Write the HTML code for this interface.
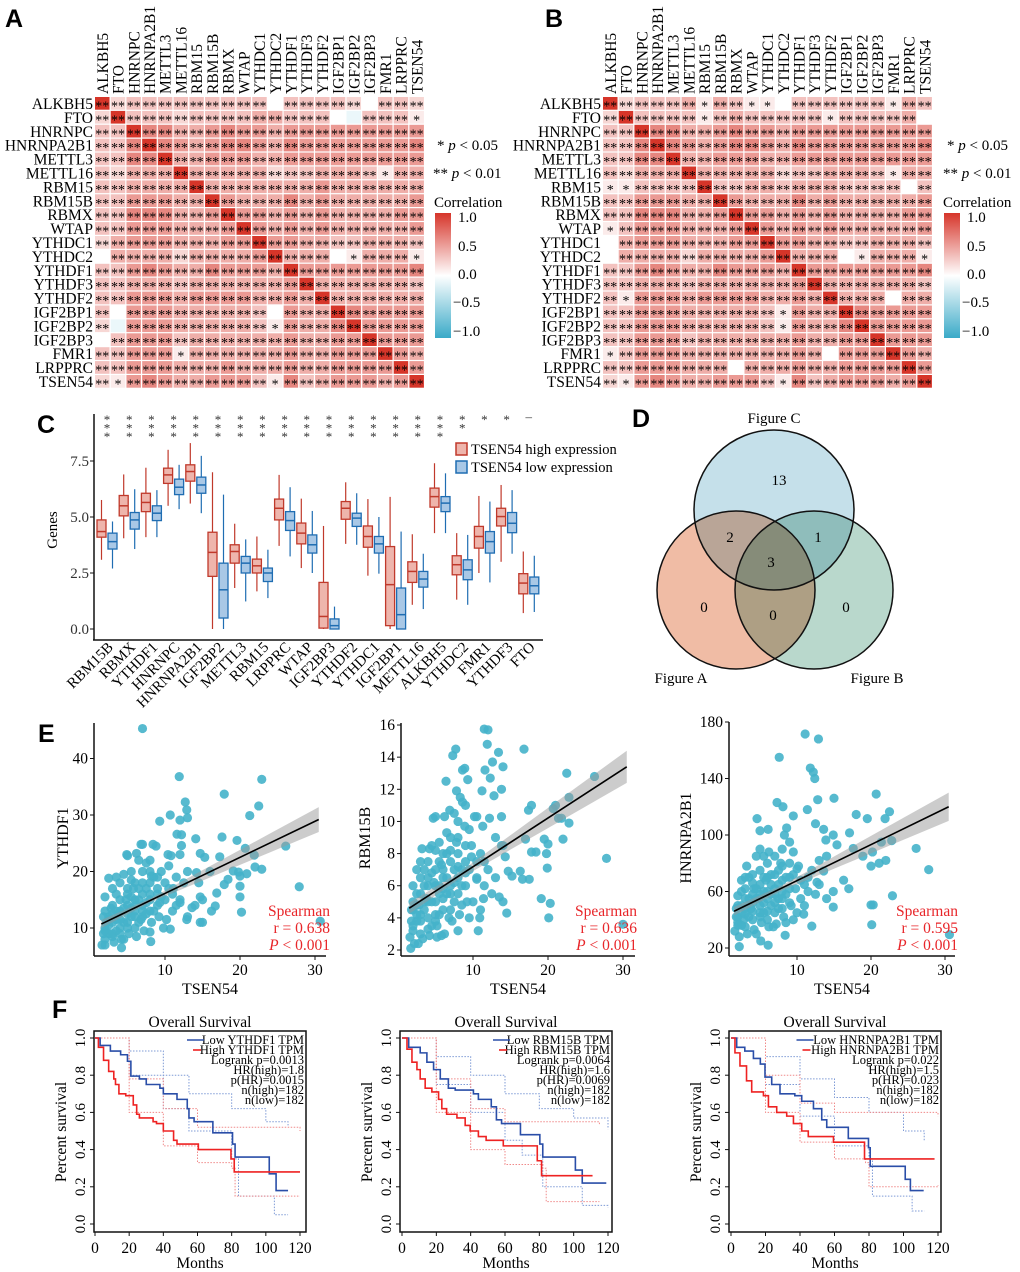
<!DOCTYPE html>
<html><head><meta charset="utf-8"><title>m6A regulators figure</title>
<style>
html,body{margin:0;padding:0;background:#fff;}
svg{display:block;font-family:"Liberation Serif",serif;}
.lab{font-family:"Liberation Sans",sans-serif;font-weight:bold;font-size:25px;}
</style></head>
<body>
<svg id="fig" width="1020" height="1272" viewBox="0 0 1020 1272" xmlns="http://www.w3.org/2000/svg">
<rect x="0" y="0" width="1020" height="1272" fill="#fff"/>
<defs>
<linearGradient id="cbar" x1="0" y1="0" x2="0" y2="1">
<stop offset="0" stop-color="#d6352a"/><stop offset="0.5" stop-color="#ffffff"/><stop offset="1" stop-color="#3aaac8"/>
</linearGradient>
</defs>
<text class="lab" x="5" y="27">A</text>
<text class="lab" x="545" y="27">B</text>
<text class="lab" x="37" y="433">C</text>
<text class="lab" x="632" y="427">D</text>
<text class="lab" x="38" y="742">E</text>
<text class="lab" x="52" y="1018">F</text>
<g id="legA">
<text x="437" y="150" font-size="15">* <tspan font-style="italic">p</tspan> &lt; 0.05</text>
<text x="433" y="178" font-size="15">** <tspan font-style="italic">p</tspan> &lt; 0.01</text>
<text x="434" y="207" font-size="15">Correlation</text>
<rect x="435" y="213" width="16" height="125" fill="url(#cbar)"/>
<text x="458" y="222" font-size="15">1.0</text>
<text x="458" y="251" font-size="15">0.5</text>
<text x="458" y="279" font-size="15">0.0</text>
<text x="453" y="307" font-size="15">−0.5</text>
<text x="453" y="336" font-size="15">−1.0</text>
</g>
<g id="legB">
<text x="947" y="150" font-size="15">* <tspan font-style="italic">p</tspan> &lt; 0.05</text>
<text x="943" y="178" font-size="15">** <tspan font-style="italic">p</tspan> &lt; 0.01</text>
<text x="943" y="207" font-size="15">Correlation</text>
<rect x="944" y="213" width="16" height="125" fill="url(#cbar)"/>
<text x="967" y="222" font-size="15">1.0</text>
<text x="967" y="251" font-size="15">0.5</text>
<text x="967" y="279" font-size="15">0.0</text>
<text x="962" y="307" font-size="15">−0.5</text>
<text x="962" y="336" font-size="15">−1.0</text>
</g>
<g>
<circle cx="774" cy="510" r="80" fill="#c5e0ea" style="mix-blend-mode:multiply"/>
<circle cx="736" cy="590" r="79" fill="#f0bca5" style="mix-blend-mode:multiply"/>
<circle cx="814" cy="590" r="79" fill="#b9d8cc" style="mix-blend-mode:multiply"/>
<circle cx="774" cy="510" r="80" fill="none" stroke="#111" stroke-width="1.5"/>
<circle cx="736" cy="590" r="79" fill="none" stroke="#111" stroke-width="1.5"/>
<circle cx="814" cy="590" r="79" fill="none" stroke="#111" stroke-width="1.5"/>
<g font-size="15" text-anchor="middle">
<text x="774" y="423">Figure C</text>
<text x="779" y="485">13</text>
<text x="730" y="542">2</text>
<text x="818" y="542">1</text>
<text x="771" y="567">3</text>
<text x="704" y="612">0</text>
<text x="773" y="620">0</text>
<text x="846" y="612">0</text>
<text x="681" y="683">Figure A</text>
<text x="877" y="683">Figure B</text>
</g>
</g>
</svg>
<script>
// ===== Heatmap data =====
const heatGenes = ["ALKBH5","FTO","HNRNPC","HNRNPA2B1","METTL3","METTL16","RBM15","RBM15B","RBMX","WTAP","YTHDC1","YTHDC2","YTHDF1","YTHDF3","YTHDF2","IGF2BP1","IGF2BP2","IGF2BP3","FMR1","LRPPRC","TSEN54"];
// digit d = correlation d/10, X = 1.0, n = -0.1
const corrA = [
"X23333333330333320332","2X33323333443330n3331","33X664456554555555555","336X65456654655555556",
"3366X4455544555555555","32444X444442334443144","334444X44444445444444","3355544X5444645444445",
"33666445X554545444455","335554445X54545444445","2455544455X5544334443","04444244445X444014441",
"335654465554X55555556","3344434444445X4444443","33555455554454X444444","305554444430544X65555",
"2n55544444315446X5555","03555344444454455X555","335551444444544555X54","3355544454445445555X5",
"21565445553163455545X"];
const corrB = [
"X23334143110333333143","2X3333134333331333340","33X664456554555555555","336X65456654655555556",
"3366X4455544555555555","32444X444442334443144","113333X33443444333303","3355544X5444645444445",
"33666445X554545444455","135554445X54545444445","0455544455X5544334443","04444244445X444014441",
"335654465554X55555556","3344434444445X4444443","31555455554454X444044","335554444431544X65555",
"3355544444315446X5555","33555344444454455X555","135554444444540555X54","3355544404445445555X5",
"21565445553163455545X"];

// ===== Boxplot data (panel C) =====
const boxGenes = ["RBM15B","RBMX","YTHDF1","HNRNPC","HNRNPA2B1","IGF2BP2","METTL3","RBM15","LRPPRC","WTAP","IGF2BP3","YTHDF2","YTHDC1","IGF2BP1","METTL16","ALKBH5","YTHDC2","FMR1","YTHDF3","FTO"];
const hiMed = [4.35,5.5,5.65,6.88,7.03,3.42,3.46,2.82,5.39,4.28,0.56,5.39,4.13,1.98,2.57,5.91,2.87,4.13,5.02,2.05];
const hiQ1  = [4.1,5.05,5.24,6.5,6.6,2.35,2.94,2.5,4.87,3.8,0.04,4.9,3.65,0.15,2.08,5.44,2.42,3.61,4.6,1.57];
const hiQ3  = [4.87,5.96,6.06,7.18,7.33,4.32,3.76,3.12,5.8,4.73,2.08,5.69,4.6,3.68,3.0,6.29,3.27,4.58,5.39,2.47];
const hiMin = [3.09,4.05,4.1,5.5,5.6,0,1.83,1.68,3.71,2.72,0,3.8,2.38,0,1.08,4.28,1.31,2.5,3.0,0.71];
const hiMax = [5.76,6.9,7.2,8.0,8.3,7.0,4.7,4.13,6.88,5.82,4.6,6.55,5.8,5.9,4.23,7.4,4.28,5.94,6.43,3.46];
const loMed = [3.9,4.87,5.17,6.33,6.43,1.75,2.94,2.5,4.84,3.76,0.15,4.95,3.8,0.64,2.23,5.62,2.64,3.9,4.72,1.93];
const loQ1  = [3.57,4.46,4.84,6.0,6.06,0.49,2.5,2.12,4.4,3.39,0,4.58,3.39,0,1.87,5.24,2.2,3.39,4.3,1.57];
const loQ3  = [4.28,5.2,5.5,6.69,6.78,2.94,3.24,2.72,5.24,4.2,0.45,5.17,4.13,1.83,2.57,5.91,3.09,4.35,5.2,2.32];
const loMin = [2.7,3.57,4.1,5.35,5.17,0,1.23,1.38,3.24,2.5,0,3.76,2.47,0,0.89,4.28,1.08,2.08,3.36,0.76];
const loMax = [4.8,6.24,6.2,7.33,7.73,6.0,4.0,3.54,6.33,5.27,1.0,6.06,5.0,4.35,3.36,6.95,4.2,5.69,6.2,3.27];
const boxSignif = ["***","***","***","***","***","***","***","***","***","***","***","***","***","***","***","***","**","*","*","-"];
const boxTicks = [0,2.5,5,7.5];
const boxTickLabels = ["0.0","2.5","5.0","7.5"];

// ===== Scatter data (panel E) =====
const e1X = [7.0,11.9,22.9,17.9,12.7,22.5,12.9,10.7,21.3,13.0,9.3,12.0,11.6,14.1,17.6,19.6,7.0,8.4,12.2,26.1,20.7,21.9,4.9,10.4,14.7,15.3,6.2,17.3,22.0,22.9,19.1,19.8,20.9,20.0,18.4,17.9,27.9,20.0,16.9,20.0,14.7,16.7,16.2,20.2,14.7,10.7,30.7,8.0,8.1,4.2,8.2,14.2,11.1,12.0,13.6,9.3,10.2,12.9,
2,2,2.5,2,3,3,3.5,2.5,4,4,4.5,5,5,5.5,5,6,6,6.5,6,7,7,7.5,7,8,8,8.5,8,9,9,9.5,3,3.5,4,4.5,2,2.5,3.5,5.5,6.5,5,7.5,8.8,6.8,10,10,10.5,11,11,11.5,12,12.5,13,13,14,14.5,15,15,16,1.8,2.2,3.2,4.2,5.2,6.2,7.2,8.2,9.2,4.8,5.8,6.8,3.8,2.8,1.6,9.8,12,12.2,10.8,
2,2.5,3,3.5,4,4.5,5,5.5,6,6.5,7,7.5,8,8.5,9,3,4,5,6,7,8,9,4.5,5.5,6.5,7.5,3.5,2.5,1.8,4,5,6,7,8,9.5,10.5,11.5,3,2,5.5];
const e1Y = [45.3,36.8,36.3,33.7,32.3,31.6,30.9,30.0,29.9,29.5,28.9,29.1,26.6,25.8,26.1,25.5,24.8,24.8,24.6,24.5,24.1,22.9,23.0,23.0,23.2,22.5,23.2,22.6,20.8,20.4,20.1,19.9,19.6,19.2,18.6,17.7,17.3,17.4,16.2,15.5,15.5,13.9,13.0,12.8,11.0,9.8,11.2,9.3,7.6,8.0,19.2,19.8,17.0,14.5,13.6,14.5,11.5,11.5,
7,8,9,10,8.5,11,9.5,12,10,13,8,11,14,12,16,10,13,15,18,12,14,17,20,13,16,19,22,14,17,20,14,16,18,19.5,15.5,18.8,19,20,22,22.8,21.5,24.5,24.8,15,18,21,13,16,19,15,18,12,20,14,18,11,15,20,9,11,7.5,6.5,9,8.5,9.5,11,12,15,17,11.5,12.5,13.5,7,10,23,26.5,22.8,
9.5,10.5,9,11.5,9,11,10,13.5,12,11,13,12.5,15,13,16,12.5,15,17,15,16,18,19,13.5,15.5,17,14.5,13,11.5,12,11.5,12.5,14,18,20,15.5,17,14,17,13,18.5];
const e1Fit = [10.7,29.2];
const e1Band = [0.7,0.35,2.2];

const e2X = [11.5,12.0,11.9,7.7,16.8,13.4,7.3,12.6,8.9,8.6,14.0,11.6,22.5,26.2,12.3,6.4,9.3,13.8,7.8,11.2,22.8,12.8,17.8,8.6,20.7,21.0,17.4,6.9,4.7,10.5,13.8,21.4,21.8,22.8,8.9,11.3,12.2,17.0,19.5,20.0,22.0,13.8,27.8,17.8,18.4,19.8,14.3,19.9,16.3,14.7,16.6,17.5,15.2,19.1,20.3,20.1,14.5,13.5,11.4,10.9,10.7,8.0,9.8,10.5,30.0,5.2,5.8,1.7,2.7,
1.6,2,2.5,2,3,3,3.5,2.5,4,4,4.5,5,5,5.5,5,6,6,6.5,6,7,7,7.5,7,8,8,8.5,8,9,9,9.5,3,3.5,4,4.5,2,2.5,3.2,5.5,6.5,5,7.5,6.2,4.2,10,10.5,11,11,11.5,12,12.5,13,13,14,14,9.5,8.5,1.8,2.2,3.3,4.2,5.2,6.2,7.2,8.2,9.2,4.8,5.8,6.8,3.8,2.8,7.8,9.8,10.2,9,8.3,
2,2.5,3,3.5,4,4.5,5,5.5,6,6.5,7,7.5,8,8.5,9,3,4,5,6,7,8,9,4.5,5.5,6.5,7.5,3.5,2.5,1.8,4,5,6,7,8,9.5,10.5,11.5,3,2,5.5];
const e2Y = [15.75,15.7,14.8,14.5,14.5,14.3,14.1,13.7,13.3,13.2,13.4,13.2,13.0,12.8,12.7,12.5,12.6,12.0,11.9,11.9,11.5,11.6,11.0,11.2,10.8,11.0,10.7,10.7,10.2,10.3,10.3,10.2,10.2,9.9,9.7,9.7,10.2,8.9,8.9,8.6,8.9,8.5,7.7,8.1,8.1,8.0,7.8,7.1,6.9,6.9,6.4,6.4,6.6,5.2,4.9,4.0,4.3,5.3,5.2,4.0,3.2,3.2,7.8,6.4,3.6,2.8,2.9,2.1,2.4,
2.8,3.2,3.8,4.5,3,4.2,5,5.5,4,6,3.5,5,7,6,8.2,4.5,6.5,5.5,8,6,7.5,5,9,6.5,8,7,10,6,7.5,9.5,6.5,7,7.5,8.5,6,7,8.3,8.7,9.3,10.3,10.5,10.3,8.3,5,6.5,8,4.5,6,7,5.5,6.5,9,5,8.5,4,4.8,3.8,2.4,2.7,2.9,3.5,3,3.8,4.2,5,6.2,7.3,4,5.2,4.8,8.7,8.5,10.3,11,11.5,
3.5,4.2,3.8,4.5,3.3,5,4.2,5.5,5.2,6.5,5.5,6.2,7.2,6,8.5,5.5,6.5,6,7,8.2,9,6.8,6.8,7.5,8,7,6,4.8,4.5,5,3.8,5.8,4.5,5.5,7,7.5,7.5,7.5,5,4.2];
const e2Fit = [4.6,13.4];
const e2Band = [0.35,0.2,1.0];

const e3X = [11.1,12.9,7.6,11.8,12.2,12.4,12.8,15.0,20.7,7.3,8.1,11.4,22.5,18.0,9.5,4.6,19.5,21.9,12.5,5.0,6.1,13.6,17.1,8.6,14.9,13.9,21.4,22.8,26.1,17.6,15.4,18.9,20.2,21.1,22.0,20.0,27.8,16.3,17.0,22.9,14.9,20.0,20.3,14.9,20.1,12.0,10.9,30.6,8.4,6.1,2.2,5.1,13.6,12.7,10.0,
1.6,2,2.5,2,3,3,3.5,2.5,4,4,4.5,5,5,5.5,5,6,6,6.5,6,7,7,7.5,7,8,8,8.5,8,9,9,9.5,3,3.5,4,4.5,2,2.5,3.2,5.5,6.5,5,7.5,6.2,4.2,10,10.5,11,11,11.5,12,12.5,13,13,14,14,9.5,8.5,1.8,2.2,3.3,4.2,5.2,6.2,7.2,8.2,9.2,4.8,5.8,6.8,3.8,2.8,7.8,9.8,10.2,9,8.3,
2,2.5,3,3.5,4,4.5,5,5.5,6,6.5,7,7.5,8,8.5,9,3,4,5,6,7,8,9,4.5,5.5,6.5,7.5,3.5,2.5,1.8,4,5,6,7,8,9.5,10.5,11.5,3,2,5.5];
const e3Y = [171.5,168,155,147.4,144.5,140,125,126,129,123,120,118,116.5,114.5,113.5,111.6,111.6,111.6,108,103,104,104,101.5,105,100,96.5,95,96,90.5,90.5,93,85,88,80,82,78,75.5,68,62,57,60,50.5,50.5,49,36.5,35.5,44,29.5,29,22,21,25,74.5,66.5,76,
32,38,45,50,35,48,55,60,40,58,30,45,65,52,75,40,60,50,80,45,62,55,85,48,68,58,90,52,70,88,62,70,72,85,57,68,78,85,72,90,75,88,62,45,55,65,50,60,75,58,65,82,55,85,40,38,42,28,30,33,38,35,37,42,50,55,68,35,48,40,80,62,78,95,100,
42,50,44,50,46,55,50,60,55,65,58,65,60,70,62,55,66,58,70,72,78,80,62,70,58,48,42,36,48,52,42,46,52,55,72,68,70,70,36,45];
const e3Fit = [46,120];
const e3Band = [3,1.8,10];

// ===== Survival data (panel F) =====
const f1LowT = [0,3,9,15,19,21,26,30,38,40,48,54,55,58,69,80.5,82,102,106,113];
const f1LowS = [1,0.96,0.93,0.91,0.875,0.795,0.78,0.75,0.73,0.70,0.67,0.62,0.57,0.55,0.49,0.43,0.36,0.27,0.18,0.18];
const f1HighT = [0,2,5,8,11,12,14,18,22.4,24.4,26,34,36,40,46,48,60.5,79.6,81.5,120];
const f1HighS = [1,0.95,0.88,0.82,0.78,0.75,0.70,0.69,0.64,0.59,0.57,0.55,0.54,0.50,0.45,0.43,0.40,0.35,0.28,0.28];
const f1LowUpT=[0,20,40,55,80,100,113], f1LowUpS=[1,0.93,0.8,0.7,0.62,0.55,0.53];
const f1LowDnT=[0,20,40,55,80,84,105,113], f1LowDnS=[1,0.8,0.62,0.5,0.35,0.15,0.05,0.05];
const f1HighUpT=[0,20,40,60,120], f1HighUpS=[1,0.78,0.62,0.52,0.5];
const f1HighDnT=[0,20,40,60,80,82,120], f1HighDnS=[1,0.6,0.42,0.33,0.3,0.15,0.15];

const f2LowT = [0,3.9,10.6,14.5,18.4,22.3,27,31,41.6,44.5,52,55,58,69,80.3,82,101,105,119];
const f2LowS = [1,0.95,0.92,0.87,0.83,0.78,0.73,0.72,0.70,0.67,0.63,0.56,0.54,0.48,0.43,0.36,0.29,0.22,0.22];
const f2HighT = [0,2.9,5.8,8.7,10.6,13.5,17.4,21.3,23.2,26,32,36.8,39.7,44.5,49,59,78.8,81.3,111];
const f2HighS = [1,0.94,0.87,0.83,0.78,0.73,0.71,0.67,0.62,0.59,0.57,0.53,0.50,0.47,0.45,0.42,0.34,0.26,0.26];
const f2LowUpT=[0,20,40,60,80,100,120], f2LowUpS=[1,0.9,0.8,0.7,0.62,0.57,0.51];
const f2LowDnT=[0,20,40,60,70,82,105,120], f2LowDnS=[1,0.75,0.6,0.45,0.37,0.2,0.1,0.09];
const f2HighUpT=[0,20,40,60,115], f2HighUpS=[1,0.78,0.62,0.55,0.53];
const f2HighDnT=[0,20,40,60,82,84,115], f2HighDnS=[1,0.6,0.4,0.32,0.3,0.12,0.12];

const f3LowT = [0,3.3,8,13,17,19.7,23.6,28.4,37,41,47.8,52.6,55.5,68,79.7,80.7,101,104,111.7];
const f3LowS = [1,0.95,0.93,0.89,0.86,0.79,0.75,0.70,0.69,0.66,0.62,0.56,0.52,0.46,0.41,0.31,0.24,0.18,0.18];
const f3HighT = [0,2.3,5.2,9,12,18.8,21.7,26.5,32.3,36.2,41,44.8,59.4,77.4,118];
const f3HighS = [1,0.92,0.85,0.77,0.71,0.69,0.63,0.60,0.58,0.54,0.50,0.47,0.44,0.35,0.35];
const f3LowUpT=[0,20,40,60,80,100,112], f3LowUpS=[1,0.9,0.78,0.68,0.6,0.5,0.45];
const f3LowDnT=[0,20,40,60,80,82,105,112], f3LowDnS=[1,0.75,0.58,0.42,0.35,0.15,0.07,0.07];
const f3HighUpT=[0,20,40,60,120], f3HighUpS=[1,0.8,0.65,0.6,0.58];
const f3HighDnT=[0,20,40,60,78,80,120], f3HighDnS=[1,0.6,0.44,0.35,0.33,0.2,0.21];
const survTicks = [0,0.2,0.4,0.6,0.8,1.0];
const monthTicks = [0,20,40,60,80,100,120];

// ===== helpers =====
const NS = 'http://www.w3.org/2000/svg';
const svg = document.getElementById('fig');
function mk(tag, attrs, parent) {
  const e = document.createElementNS(NS, tag);
  for (const k in attrs) e.setAttribute(k, attrs[k]);
  (parent || svg).appendChild(e);
  return e;
}
function txt(s, attrs, parent) { const e = mk('text', attrs, parent); e.textContent = s; return e; }
function corrColor(v) {
  if (v >= 0) { return 'rgb(' + Math.round(255 - v * (255 - 214)) + ',' + Math.round(255 - v * (255 - 53)) + ',' + Math.round(255 - v * (255 - 41)) + ')'; }
  const a = -v; return 'rgb(' + Math.round(255 - a * (255 - 58)) + ',' + Math.round(255 - a * (255 - 170)) + ',' + Math.round(255 - a * (255 - 200)) + ')';
}

// ===== heatmaps =====
function drawHeat(mat, x0, y0, tag) {
  const cw = 15.72, chh = 13.9;
  const g = mk('g', {});
  
  
  for (let r = 0; r < heatGenes.length; r++) {
    const rl = txt(heatGenes[r], { x: x0 - 2, y: y0 + r * chh + chh / 2 + 5, 'text-anchor': 'end', 'font-size': 15.5 }, g);
    
    
    const cl = txt(heatGenes[r], { transform: 'translate(' + (x0 + r * cw + cw / 2 + 5) + ',' + (y0 - 3) + ') rotate(-90)', 'font-size': 15.5 }, g);
    
    
    for (let c = 0; c < heatGenes.length; c++) {
      const ch = mat[r][c];
      const v = ch === 'X' ? 1 : (ch === 'n' ? -0.1 : (+ch) / 10);
      const cell = mk('rect', { x: x0 + c * cw, y: y0 + r * chh, width: cw - 1.2, height: chh - 1.2, fill: corrColor(v) }, g);
      
      
      const st = ch === 'X' ? '**' : (v >= 0.2 ? '**' : (v >= 0.1 ? '*' : ''));
      if (st) {
        const s = txt(st, { x: x0 + c * cw + cw / 2 - 0.6, y: y0 + r * chh + chh / 2 + 6.5, 'text-anchor': 'middle', 'font-size': 14, 'font-family': 'Liberation Serif, serif' }, g);
        
        
      }
    }
  }
}
drawHeat(corrA, 95, 97, 'a');
drawHeat(corrB, 603, 97, 'b');

// ===== panel C boxplot =====
(function () {
  const g = mk('g', {});
  
  
  const yS = v => 629 - v * 22.4;
  const xS = i => 107 + i * 22.2;
  const ya = mk('line', { x1: 94, y1: 414, x2: 94, y2: 640, stroke: '#111', 'stroke-width': 1.5 }, g);
  
  
  const xa = mk('line', { x1: 93, y1: 640, x2: 543, y2: 640, stroke: '#111', 'stroke-width': 1.5 }, g);
  
  
  boxTicks.forEach((t, i) => {
    const tk = mk('line', { x1: 90, y1: yS(t), x2: 94, y2: yS(t), stroke: '#111' }, g);
    
    
    const tl = txt(boxTickLabels[i], { x: 89, y: yS(t) + 5, 'text-anchor': 'end', 'font-size': 15, fill: '#333' }, g);
    
    
  });
  const yt = txt('Genes', { transform: 'translate(57,530) rotate(-90)', 'text-anchor': 'middle', 'font-size': 15 }, g);
  
  
  function box(cx, q1, md, q3, mn, mx, col, fill, nm) {
    const w = mk('line', { x1: cx, y1: yS(mx), x2: cx, y2: yS(mn), stroke: col, 'stroke-width': 1.2 }, g);
    
    
    const b = mk('rect', { x: cx - 4.5, y: yS(q3), width: 9, height: Math.max(1, yS(q1) - yS(q3)), fill: fill, stroke: col, 'stroke-width': 1.3 }, g);
    
    
    const m = mk('line', { x1: cx - 4.5, y1: yS(md), x2: cx + 4.5, y2: yS(md), stroke: col, 'stroke-width': 1.5 }, g);
    
    
  }
  boxGenes.forEach((gn, i) => {
    const cx = xS(i);
    box(cx - 5.5, hiQ1[i], hiMed[i], hiQ3[i], hiMin[i], hiMax[i], '#c0392b', '#eeb5ac', 'high-' + gn);
    box(cx + 5.5, loQ1[i], loMed[i], loQ3[i], loMin[i], loMax[i], '#1f6db2', '#a9c8e6', 'low-' + gn);
    const xl = txt(gn, { transform: 'translate(' + (cx + 7) + ',648) rotate(-45)', 'text-anchor': 'end', 'font-size': 15 }, g);
    
    
    const sg = boxSignif[i];
    if (sg === '-') {
      const d = txt('–', { x: cx, y: 421, 'text-anchor': 'middle', 'font-size': 13, fill: '#333' }, g);
      
      
    } else {
      for (let k = 0; k < sg.length; k++) {
        const s = txt('*', { x: cx, y: 424 + k * 8.6, 'text-anchor': 'middle', 'font-size': 13, fill: '#333' }, g);
        
        
      }
    }
  });
  const l1 = mk('rect', { x: 456, y: 443, width: 11, height: 12, fill: '#eeb5ac', stroke: '#c0392b', 'stroke-width': 1.5 }, g);
  
  
  const l2 = mk('rect', { x: 456, y: 461, width: 11, height: 12, fill: '#a9c8e6', stroke: '#1f6db2', 'stroke-width': 1.5 }, g);
  
  
  const t1 = txt('TSEN54 high expression', { x: 471, y: 454, 'font-size': 14.5 }, g);
  
  
  const t2 = txt('TSEN54 low expression', { x: 471, y: 472, 'font-size': 14.5 }, g);
  
  
})();

// ===== panel E scatter =====
function drawScatter(cfg, xs, ys, fit, band, yTicks, yLab, r) {
  const g = mk('g', {});
  
  
  const xS = v => cfg.x0 + v * cfg.kx;
  const yS = v => cfg.yBase - (v - cfg.yRef) * cfg.ky;
  const fx0 = 1.5, fx1 = 30.5, fmid = 8;
  const fy = x => fit[0] + (fit[1] - fit[0]) * (x - fx0) / (fx1 - fx0);
  const hw = x => x <= fmid ? band[0] + (band[1] - band[0]) * (x - fx0) / (fmid - fx0) : band[1] + (band[2] - band[1]) * (x - fmid) / (fx1 - fmid);
  xs.forEach((x, i) => {
    const c = mk('circle', { cx: xS(x), cy: yS(ys[i]), r: 4.6, fill: '#45b2ca', 'fill-opacity': 0.9 }, g);
    
    
  });
  const steps = [fx0, 4, fmid, 12, 16, 20, 24, 28, fx1];
  let d = 'M' + steps.map(x => xS(x) + ',' + yS(fy(x) + hw(x))).join(' L');
  d += ' L' + steps.slice().reverse().map(x => xS(x) + ',' + yS(fy(x) - hw(x))).join(' L') + ' Z';
  const bp = mk('path', { d: d, fill: '#9a9a9a', 'fill-opacity': 0.5 }, g);
  
  
  const ln = mk('line', { x1: xS(fx0), y1: yS(fy(fx0)), x2: xS(fx1), y2: yS(fy(fx1)), stroke: '#000', 'stroke-width': 1.6 }, g);
  
  
  const ya = mk('line', { x1: cfg.ax, y1: cfg.top, x2: cfg.ax, y2: 956, stroke: '#111', 'stroke-width': 1.5 }, g);
  
  
  const xa = mk('line', { x1: cfg.ax, y1: 956, x2: cfg.right, y2: 956, stroke: '#111', 'stroke-width': 1.5 }, g);
  
  
  [10, 20, 30].forEach(t => {
    const tk = mk('line', { x1: xS(t), y1: 956, x2: xS(t), y2: 960, stroke: '#111' }, g);
    
    
    const tl = txt(String(t), { x: xS(t), y: 975, 'text-anchor': 'middle', 'font-size': 15.5 }, g);
    
    
  });
  yTicks.forEach(t => {
    const tk = mk('line', { x1: cfg.ax - 4, y1: yS(t), x2: cfg.ax, y2: yS(t), stroke: '#111' }, g);
    
    
    const tl = txt(String(t), { x: cfg.ax - 6, y: yS(t) + 5, 'text-anchor': 'end', 'font-size': 15.5 }, g);
    
    
  });
  const xt = txt('TSEN54', { x: (cfg.ax + cfg.right) / 2, y: 994, 'text-anchor': 'middle', 'font-size': 16 }, g);
  
  
  const yt = txt(yLab, { transform: 'translate(' + cfg.ylx + ',838) rotate(-90)', 'text-anchor': 'middle', 'font-size': 16 }, g);
  
  
  const s1 = txt('Spearman', { x: cfg.tr, y: 916, 'text-anchor': 'end', 'font-size': 15.5, fill: '#e8262a' }, g);
  
  
  const s2 = txt('r = ' + r, { x: cfg.tr, y: 933, 'text-anchor': 'end', 'font-size': 15.5, fill: '#e8262a' }, g);
  
  
  const s3 = txt('', { x: cfg.tr, y: 950, 'text-anchor': 'end', 'font-size': 15.5, fill: '#e8262a' }, g);
  s3.innerHTML = '<tspan font-style="italic">P</tspan> &lt; 0.001';
  
  
}
drawScatter({ x0: 90, kx: 7.5, yBase: 928, yRef: 10, ky: 5.65, ax: 94, top: 723, right: 326, ylx: 68, tr: 330 }, e1X, e1Y, e1Fit, e1Band, [10, 20, 30, 40], 'YTHDF1', '0.638');
drawScatter({ x0: 398, kx: 7.5, yBase: 950, yRef: 2, ky: 16.07, ax: 401, top: 723, right: 635, ylx: 370, tr: 637 }, e2X, e2Y, e2Fit, e2Band, [2, 4, 6, 8, 10, 12, 14, 16], 'RBM15B', '0.636');
drawScatter({ x0: 723, kx: 7.4, yBase: 948, yRef: 20, ky: 1.4125, ax: 729, top: 722, right: 955, ylx: 691, tr: 958 }, e3X, e3Y, e3Fit, e3Band, [20, 60, 100, 140, 180], 'HNRNPA2B1', '0.595');

// ===== panel F survival =====
function drawSurv(cfg, lowT, lowS, highT, highS, ci, gene, stats) {
  const g = mk('g', {});
  
  
  const xS = m => cfg.x0 + m * cfg.kx;
  const yS = s => 1224 - s * 186;
  function stepPath(T, S) {
    let d = 'M' + xS(T[0]) + ',' + yS(S[0]);
    for (let i = 1; i < T.length; i++) d += ' H' + xS(T[i]) + ' V' + yS(S[i]);
    return d;
  }
  ci.forEach(c => {
    const p = mk('path', { d: stepPath(c[0], c[1]), fill: 'none', stroke: c[2], 'stroke-width': 1, 'stroke-dasharray': '1.5,1.5' }, g);
    
    
  });
  const pl = mk('path', { d: stepPath(lowT, lowS), fill: 'none', stroke: '#2a4ea8', 'stroke-width': 1.6 }, g);
  
  
  const ph = mk('path', { d: stepPath(highT, highS), fill: 'none', stroke: '#ee2222', 'stroke-width': 1.6 }, g);
  
  
  const bx = mk('rect', { x: cfg.bx, y: 1031, width: 212, height: 201, fill: 'none', stroke: '#111', 'stroke-width': 1.5 }, g);
  
  
  const tt = txt('Overall Survival', { x: cfg.bx + 106, y: 1027, 'text-anchor': 'middle', 'font-size': 15.5 }, g);
  
  
  survTicks.forEach(s => {
    const tk = mk('line', { x1: cfg.bx - 4, y1: yS(s), x2: cfg.bx, y2: yS(s), stroke: '#111' }, g);
    
    
    const tl = txt(s.toFixed(1), { transform: 'translate(' + (cfg.bx - 9) + ',' + yS(s) + ') rotate(-90)', 'text-anchor': 'middle', 'font-size': 15 }, g);
    
    
  });
  monthTicks.forEach(m => {
    const tk = mk('line', { x1: xS(m), y1: 1232, x2: xS(m), y2: 1236, stroke: '#111' }, g);
    
    
    const tl = txt(String(m), { x: xS(m), y: 1253, 'text-anchor': 'middle', 'font-size': 15.5 }, g);
    
    
  });
  const xt = txt('Months', { x: cfg.bx + 106, y: 1268, 'text-anchor': 'middle', 'font-size': 15.5 }, g);
  
  
  const yt = txt('Percent survival', { transform: 'translate(' + (cfg.bx - 28) + ',1132) rotate(-90)', 'text-anchor': 'middle', 'font-size': 15.5 }, g);
  
  
  const rx = cfg.bx + 210;
  const lines = ['Low ' + gene + ' TPM', 'High ' + gene + ' TPM'].concat(stats);
  lines.forEach((s, i) => {
    const t = txt(s, { x: rx, y: 1044 + i * 10, 'text-anchor': 'end', 'font-size': 12.5 }, g);
    
    
  });
  const lw = gene.length * 8.5 + 48;
  const lb = mk('line', { x1: rx - lw - 18, y1: 1040, x2: rx - lw - 1, y2: 1040, stroke: '#2a4ea8', 'stroke-width': 1.6 }, g);
  
  
  const lr = mk('line', { x1: rx - lw - 12, y1: 1050, x2: rx - lw - 4, y2: 1050, stroke: '#ee2222', 'stroke-width': 1.6 }, g);
  
  
}
const LB = '#7f9bd6', LR = '#f08a8a';
drawSurv({ bx: 94, x0: 95, kx: 205 / 120 }, f1LowT, f1LowS, f1HighT, f1HighS,
  [[f1LowUpT, f1LowUpS, LB], [f1LowDnT, f1LowDnS, LB], [f1HighUpT, f1HighUpS, LR], [f1HighDnT, f1HighDnS, LR]],
  'YTHDF1', ['Logrank p=0.0013', 'HR(high)=1.8', 'p(HR)=0.0015', 'n(high)=182', 'n(low)=182']);
drawSurv({ bx: 400, x0: 402, kx: 206 / 120 }, f2LowT, f2LowS, f2HighT, f2HighS,
  [[f2LowUpT, f2LowUpS, LB], [f2LowDnT, f2LowDnS, LB], [f2HighUpT, f2HighUpS, LR], [f2HighDnT, f2HighDnS, LR]],
  'RBM15B', ['Logrank p=0.0064', 'HR(high)=1.6', 'p(HR)=0.0069', 'n(high)=182', 'n(low)=182']);
drawSurv({ bx: 729, x0: 731, kx: 207 / 120 }, f3LowT, f3LowS, f3HighT, f3HighS,
  [[f3LowUpT, f3LowUpS, LB], [f3LowDnT, f3LowDnS, LB], [f3HighUpT, f3HighUpS, LR], [f3HighDnT, f3HighDnS, LR]],
  'HNRNPA2B1', ['Logrank p=0.022', 'HR(high)=1.5', 'p(HR)=0.023', 'n(high)=182', 'n(low)=182']);
</script>
</body></html>
